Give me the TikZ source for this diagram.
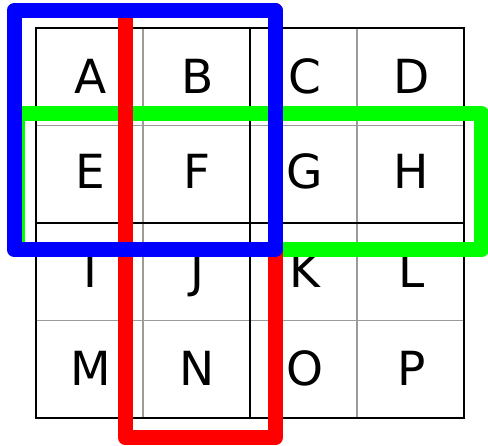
\documentclass[tikz,border=0pt]{standalone}
\usepackage{fontspec}
\setmainfont{DejaVu Sans}
\usepackage{tikz}
\definecolor{gridgray}{RGB}{155,155,155}
\tikzset{
  cell/.style={anchor=base,inner sep=0pt,font=\fontsize{47}{56}\selectfont},
  frame/.style={line width=15pt,line join=round}
}
\begin{document}
\begin{tikzpicture}[x=1pt,y=-1pt]
\useasboundingbox (0,0) rectangle (488,446);
% objects at depth 100: thin grid
\path[draw=gridgray,line width=1.8pt] (143,28) -- (143,418);
\path[draw=gridgray,line width=1.8pt] (357,28) -- (357,418);
\path[draw=gridgray,line width=1.8pt] (36,125.5) -- (464,125.5);
\path[draw=gridgray,line width=1.8pt] (36,320.5) -- (464,320.5);
% objects at depth 90: heavy grid
\path[draw=black,line width=2.4pt] (250,28) -- (250,418);
\path[draw=black,line width=2.4pt] (36,223) -- (464,223);
\path[draw=black,line width=2.4pt] (36,28) rectangle (464,418);
% objects at depth 80: letters
\node[cell] (a) at (90.5,93.5) {A};
\node[cell] (b) at (197.5,93.5) {B};
\node[cell] (c) at (304.5,93.5) {C};
\node[cell] (d) at (411.5,93.5) {D};
\node[cell] (e) at (90.5,189) {E};
\node[cell] (f) at (197.5,189) {F};
\node[cell] (g) at (304.5,189) {G};
\node[cell] (h) at (411.5,189) {H};
\node[cell] (i) at (90.5,288) {I};
\node[cell] (j) at (197.5,288) {J};
\node[cell] (k) at (304.5,288) {K};
\node[cell] (l) at (411.5,288) {L};
\node[cell] (m) at (90.5,386) {M};
\node[cell] (n) at (197.5,386) {N};
\node[cell] (o) at (304.5,386) {O};
\node[cell] (p) at (411.5,386) {P};
% objects at depth 50: green frame
\path[frame,draw=green] (17,113.5) rectangle (481.5,250);
% objects at depth 40: red frame
\path[frame,draw=red] (125.5,10.5) rectangle (275,438);
% objects at depth 30: blue frame
\path[frame,draw=blue] (14,10.5) rectangle (275,249.5);
\end{tikzpicture}
\end{document}
